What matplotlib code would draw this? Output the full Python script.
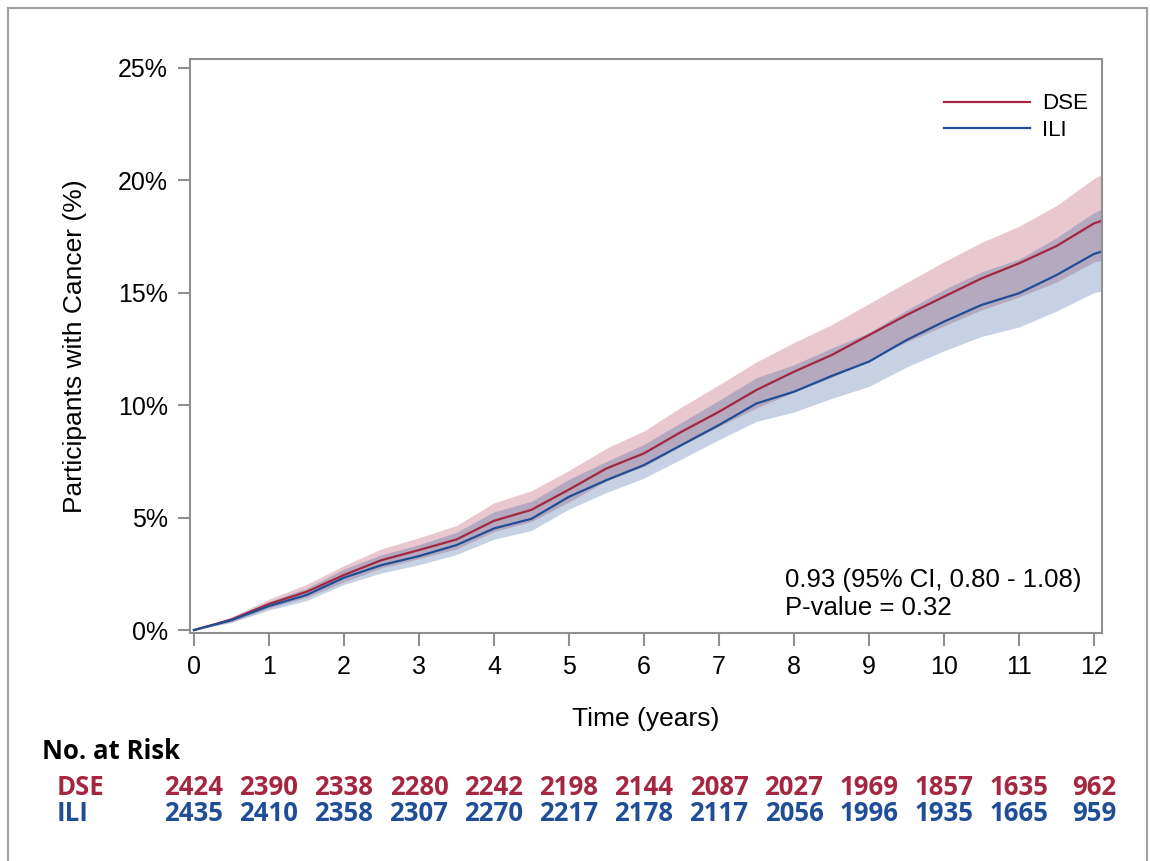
import matplotlib
matplotlib.use("Agg")
import matplotlib.pyplot as plt
import matplotlib.transforms as mtransforms
from matplotlib.patches import Rectangle

plt.rcParams.update({"font.family": ["Liberation Sans", "DejaVu Sans"]})

RED = "#a4263f"
BLUE = "#1f4e97"
GRAY = "#8f8f8f"

# cumulative incidence (%), every half year
years = [0, 0.5, 1, 1.5, 2, 2.5, 3, 3.5, 4, 4.5, 5, 5.5, 6, 6.5, 7, 7.5,
         8, 8.5, 9, 9.5, 10, 10.5, 11, 11.5, 12, 12.1]
dse = [0, 0.47, 1.16, 1.70, 2.45, 3.11, 3.56, 4.03, 4.86, 5.35, 6.25, 7.19, 7.86,
       8.82, 9.71, 10.68, 11.49, 12.23, 13.12, 14.01, 14.83, 15.64, 16.31, 17.08, 18.09, 18.20]
dse_hi = [0, 0.59, 1.38, 2.03, 2.87, 3.61, 4.11, 4.65, 5.66, 6.20, 7.10, 8.09, 8.86,
          9.92, 10.91, 11.93, 12.79, 13.58, 14.52, 15.46, 16.38, 17.24, 17.96, 18.88, 20.09, 20.25]
dse_lo = [0, 0.37, 0.98, 1.45, 2.15, 2.76, 3.18, 3.61, 4.38, 4.83, 5.70, 6.64, 7.28,
          8.20, 9.06, 9.88, 10.59, 11.23, 12.02, 12.81, 13.53, 14.24, 14.81, 15.48, 16.37, 16.45]
ili = [0, 0.44, 1.07, 1.56, 2.33, 2.89, 3.29, 3.78, 4.52, 4.95, 5.93, 6.67, 7.34,
       8.23, 9.12, 10.08, 10.60, 11.30, 11.94, 12.90, 13.72, 14.46, 14.98, 15.79, 16.73, 16.83]
ili_hi = [0, 0.55, 1.27, 1.86, 2.72, 3.35, 3.80, 4.35, 5.26, 5.73, 6.71, 7.50, 8.26,
          9.24, 10.22, 11.23, 11.80, 12.54, 13.23, 14.23, 15.15, 15.93, 16.50, 17.45, 18.57, 18.72]
ili_lo = [0, 0.34, 0.89, 1.31, 2.03, 2.54, 2.91, 3.36, 4.04, 4.43, 5.38, 6.12, 6.76,
          7.61, 8.47, 9.28, 9.70, 10.30, 10.84, 11.70, 12.42, 13.06, 13.48, 14.19, 15.01, 15.08]

risk_years = list(range(13))
risk_dse = [2424, 2390, 2338, 2280, 2242, 2198, 2144, 2087, 2027, 1969, 1857, 1635, 962]
risk_ili = [2435, 2410, 2358, 2307, 2270, 2217, 2178, 2117, 2056, 1996, 1935, 1665, 959]

fig = plt.figure(figsize=(11.5, 8.61), dpi=100)
ax = fig.add_axes([0.1652, 0.2648, 0.7931, 0.6667])

ax.fill_between(years, dse_lo, dse_hi, color=RED, alpha=0.25, lw=0)
ax.fill_between(years, ili_lo, ili_hi, color=BLUE, alpha=0.25, lw=0)
ax.plot(years, dse, color=RED, lw=1.6, label="DSE")
ax.plot(years, ili, color=BLUE, lw=1.6, label="ILI")

ax.set_xlim(-0.053, 12.107)
ax.set_ylim(-0.13, 25.4)
ax.set_xticks(range(13))
ax.set_yticks([0, 5, 10, 15, 20, 25])
ax.set_yticklabels([f"{v}%" for v in [0, 5, 10, 15, 20, 25]])
for s in ax.spines.values():
    s.set_color(GRAY)
    s.set_linewidth(1.5)
ax.tick_params(length=9, width=1.5, color=GRAY, labelsize=18, pad=7)
ax.set_xlabel("Time (years)", fontsize=19, labelpad=20)
ax.set_ylabel("Participants with Cancer (%)", fontsize=19, labelpad=22)

ax.legend(loc="upper right", bbox_to_anchor=(0.985, 0.94), frameon=False,
          fontsize=16, handlelength=3.9, handletextpad=0.55, borderpad=0,
          borderaxespad=0, labelspacing=0.25)

ax.text(0.652, 0.092, "0.93 (95% CI, 0.80 - 1.08)", transform=ax.transAxes,
        fontsize=18.5, va="center", ha="left")
ax.text(0.652, 0.0436, "P-value = 0.32", transform=ax.transAxes,
        fontsize=18.5, va="center", ha="left")

# number at risk table below the axes
nfont = ["Open Sans", "DejaVu Sans"]
tr = mtransforms.blended_transform_factory(ax.transData, fig.transFigure)
fig.text(0.0365, 0.1266, "No. at Risk", fontsize=18.5, fontweight="bold",
         family=nfont, va="center", ha="left")
fig.text(0.0496, 0.0848, "DSE", fontsize=18.5, fontweight="bold", family=nfont,
         color=RED, va="center", ha="left")
fig.text(0.0496, 0.0557, "ILI", fontsize=18.5, fontweight="bold", family=nfont,
         color=BLUE, va="center", ha="left")
for t, a, b in zip(risk_years, risk_dse, risk_ili):
    ax.text(t, 0.0848, str(a), transform=tr, fontsize=18.5, fontweight="bold",
            family=nfont, color=RED, ha="center", va="center", clip_on=False)
    ax.text(t, 0.0557, str(b), transform=tr, fontsize=18.5, fontweight="bold",
            family=nfont, color=BLUE, ha="center", va="center", clip_on=False)

# outer frame
fig.patches.append(Rectangle((0.007, -0.01), 0.9904, 1.0007, transform=fig.transFigure,
                             fill=False, edgecolor="#a0a0a0", lw=1.5))

fig.savefig("out.png", dpi=100)
